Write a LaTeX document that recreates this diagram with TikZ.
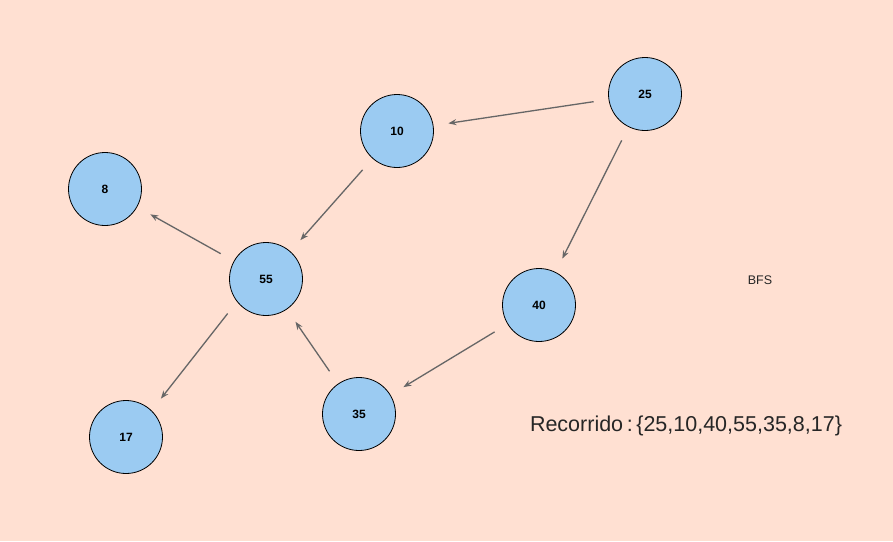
\documentclass[tikz,border=0pt]{standalone}
\usepackage{fontspec}
\setmainfont{Liberation Sans}
\usetikzlibrary{arrows.meta}
\definecolor{bg}{HTML}{FFE0D2}
\definecolor{nodefill}{HTML}{9BCBF2}
\definecolor{edge}{HTML}{666666}
\begin{document}
\begin{tikzpicture}[x=1pt,y=-1pt,
  vertex/.style={circle,draw=black,line width=0.8pt,fill=nodefill,minimum size=73pt,inner sep=0pt,font=\fontsize{12}{14}\selectfont\bfseries},
  link/.style={draw=edge,line width=1.3pt,-{Stealth[length=8pt,width=6pt]},shorten <=15pt,shorten >=15pt}]
\fill[bg] (0,0) rectangle (893,541);
\useasboundingbox (0,0) rectangle (893,541);
\node[vertex] (n25) at (645,94) {25};
\node[vertex] (n10) at (397,131) {10};
\node[vertex] (n8) at (105,189) {8};
\node[vertex] (n55) at (266,279) {55};
\node[vertex] (n40) at (539,305) {40};
\node[vertex] (n35) at (359,414) {35};
\node[vertex] (n17) at (126,437) {17};
\node[font=\fontsize{12.5}{15}\selectfont,text=black!85] (bfs) at (760,280) {BFS};
\node[font=\fontsize{21.5}{25}\selectfont,text=black!85] (rec) at (686,426) {Recorrido\,:\,\{25,10,40,55,35,8,17\}};
\draw[link] (n25) -- (n10);
\draw[link] (n25) -- (n40);
\draw[link] (n10) -- (n55);
\draw[link] (n55) -- (n8);
\draw[link] (n55.218) -- (n17.46);
\draw[link] (n35) -- (n55);
\draw[link] (n40) -- (n35);
\end{tikzpicture}
\end{document}
